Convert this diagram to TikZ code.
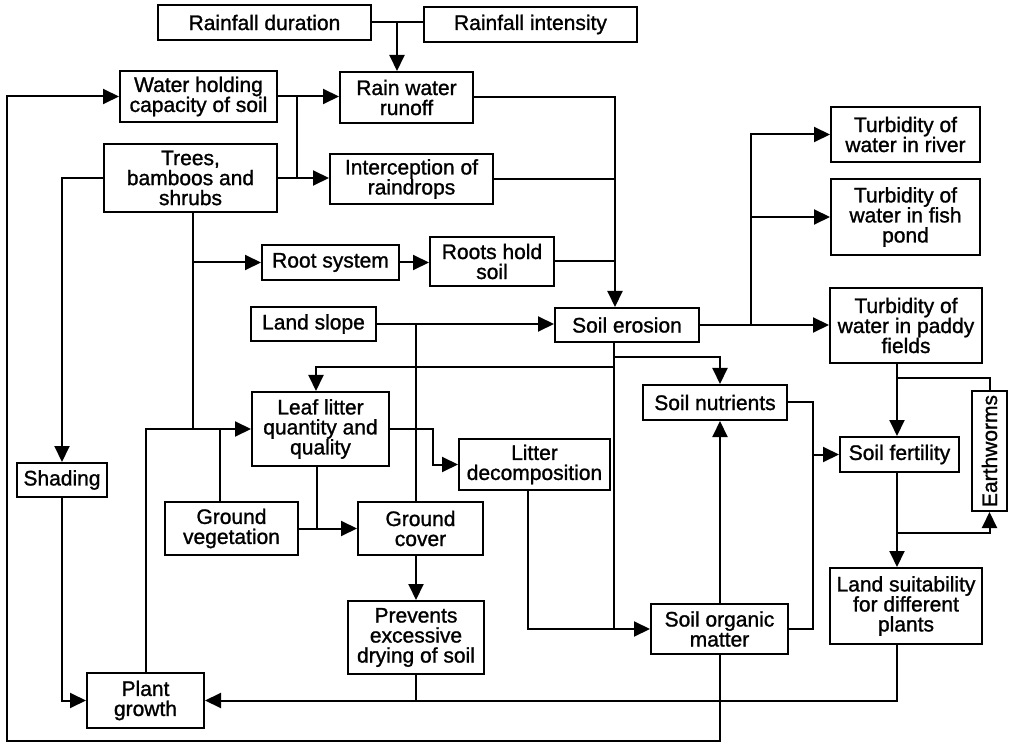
\documentclass[tikz,border=0pt]{standalone}
\usepackage{fontspec}
\setmainfont{Liberation Sans}[UprightFeatures={FakeBold=1.2}]
\usetikzlibrary{arrows.meta}

\begin{document}
\begin{tikzpicture}[x=1pt,y=-1pt,line width=2pt,
  box/.style={draw,line width=2pt,inner sep=0pt,align=center,
    font=\fontsize{21}{20}\selectfont},
  arr/.style={-{Triangle[length=16pt,width=15pt]}}]
\useasboundingbox (0,0) rectangle (1010,743);

% boxes
\node[box,minimum width=213pt,minimum height=35pt] (rd) at (264.5,22.5) {Rainfall duration};
\node[box,minimum width=213pt,minimum height=35pt] (ri) at (530.5,24.5) {Rainfall intensity};
\node[box,minimum width=157pt,minimum height=51pt] (whc) at (198.5,96.5) {Water holding\\capacity of soil};
\node[box,minimum width=133pt,minimum height=51pt] (rwr) at (406.5,97.5) {Rain water\\runoff};
\node[box,minimum width=173pt,minimum height=68pt] (trees) at (190.5,178) {Trees,\\bamboos and\\shrubs};
\node[box,minimum width=163pt,minimum height=50pt] (inter) at (411.5,179) {Interception of\\raindrops};
\node[box,minimum width=137pt,minimum height=35pt] (root) at (330.5,262.5) {Root system};
\node[box,minimum width=124pt,minimum height=49pt] (hold) at (492,261.5) {Roots hold\\soil};
\node[box,minimum width=125pt,minimum height=34pt] (slope) at (313.5,324) {Land slope};
\node[box,minimum width=144pt,minimum height=34pt] (erosion) at (627,325) {Soil erosion};
\node[box,minimum width=149pt,minimum height=55pt] (river) at (905.5,134.5) {Turbidity of\\water in river};
\node[box,minimum width=149pt,minimum height=76pt] (pond) at (905.5,217) {Turbidity of\\water in fish\\pond};
\node[box,minimum width=152pt,minimum height=75pt] (paddy) at (906,325.5) {Turbidity of\\water in paddy\\fields};
\node[box,minimum width=144pt,minimum height=35pt] (nutr) at (715,402.5) {Soil nutrients};
\node[box,minimum width=137pt,minimum height=74pt] (leaf) at (320.5,429) {Leaf litter\\quantity and\\quality};
\node[box,minimum width=151pt,minimum height=51pt] (decomp) at (534.5,464.5) {Litter\\decomposition};
\node[box,minimum width=119pt,minimum height=35pt] (fert) at (899.5,454.5) {Soil fertility};
\node[box,minimum width=120pt,minimum height=35pt,rotate=90] (earth) at (989.5,451) {Earthworms};
\node[box,minimum width=90pt,minimum height=34pt] (shade) at (62,480) {Shading};
\node[box,minimum width=133pt,minimum height=53pt] (veg) at (231.5,528.5) {Ground\\vegetation};
\node[box,minimum width=125pt,minimum height=53pt] (cover) at (420.5,528.5) {Ground\\cover};
\node[box,minimum width=136pt,minimum height=73pt] (prev) at (416,637.5) {Prevents\\excessive\\drying of soil};
\node[box,minimum width=137pt,minimum height=50pt] (som) at (719.5,629) {Soil organic\\matter};
\node[box,minimum width=152pt,minimum height=76pt] (suit) at (906,606) {Land suitability\\for different\\plants};
\node[box,minimum width=117pt,minimum height=55pt] (plant) at (145.5,700.5) {Plant\\growth};

% junction points
\coordinate (jr) at (397,23);
\coordinate (a1) at (297,96.5);
\coordinate (a2) at (297,178);
\coordinate (e1) at (615,97.5);
\coordinate (t1) at (193,429);
\coordinate (p1) at (146,429);
\coordinate (v1) at (220,429);
\coordinate (L1) at (7,741);
\coordinate (s1) at (416,324);
\coordinate (b1) at (416,700.5);
\coordinate (r1) at (751,325);
\coordinate (d1) at (614,629);
\coordinate (n1) at (720,357);
\coordinate (l1) at (316,367);
\coordinate (k1) at (433,429);
\coordinate (g1) at (317,528.5);
\coordinate (c1) at (528,629);
\coordinate (m1) at (813,402.5);
\coordinate (fx) at (897,378);
\coordinate (fy) at (897,533);

% rainfall into runoff
\draw (rd.east) -- (rd.east -| ri.west);
\draw[arr] (jr) -- (jr |- rwr.north);

% water holding capacity and trees
\draw[arr] (whc.east) -- (whc.east -| rwr.west);
\draw (a1) -- (a2);
\draw[arr] (trees.east) -- (trees.east -| inter.west);

% runoff, interception and roots into soil erosion
\draw[arr] (rwr.east) -- (e1) -- (e1 |- erosion.north);
\draw (inter.east) -- (inter.east -| e1);
\draw (hold.east) -- (hold.east -| e1);

% tree roots and shading
\draw (trees.south -| t1) -- (t1);
\draw[arr] (t1 |- root.west) -- (root.west);
\draw[arr] (root.east) -- (root.east -| hold.west);
\draw[arr] (trees.west) -| (shade.north);
\draw[arr] (shade.south) |- (plant.west);

% organic matter feeds back to water holding capacity
\draw[arr] (som.south) -- (som.south |- L1) -- (L1) |- (whc.west);

% plant growth and ground vegetation into leaf litter
\draw[arr] (plant.north -| p1) -- (p1) -- (leaf.west);
\draw (veg.north -| v1) -- (v1);

% land slope
\draw[arr] (slope.east) -- (slope.east -| erosion.west);
\draw (s1) -- (s1 |- cover.north);
\draw[arr] (cover.south -| s1) -- (prev.north -| s1);
\draw (prev.south) -- (b1);

% erosion effects
\draw[arr] (erosion.east) -- (erosion.east -| paddy.west);
\draw[arr] (r1) |- (river.west);
\draw[arr] (r1 |- pond.west) -- (pond.west);
\draw (erosion.south -| d1) -- (d1);
\draw[arr] (d1 |- n1) -- (n1) -- (n1 |- nutr.north);
\draw[arr] (d1 |- l1) -- (l1) -- (l1 |- leaf.north);

% litter and ground cover
\draw[arr] (leaf.east) -- (k1) |- (decomp.west);
\draw (leaf.south -| g1) -- (g1);
\draw[arr] (veg.east) -- (cover.west);
\draw[arr] (decomp.south -| c1) -- (c1) -- (som.west);

% nutrients and fertility
\draw[arr] (som.north -| n1) -- (nutr.south -| n1);
\draw (nutr.east) -- (m1) |- (som.east);
\draw[arr] (m1 |- fert.west) -- (fert.west);
\draw[arr] (paddy.south -| fx) -- (fert.north -| fx);
\draw (fx) -| (earth.east);
\draw[arr] (fert.south -| fx) -- (suit.north -| fx);
\draw[arr] (fy) -| (earth.west);
\draw[arr] (suit.south -| fx) |- (plant.east);
\end{tikzpicture}
\end{document}
